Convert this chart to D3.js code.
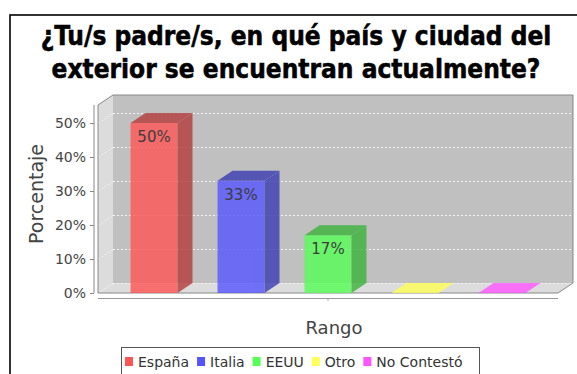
<!DOCTYPE html>
<html>
<head>
<meta charset="utf-8">
<script src="https://cdn.jsdelivr.net/npm/d3@7"></script>
<style>
  html, body { margin: 0; padding: 0; background: #fff; }
  svg { display: block; }
</style>
</head>
<body>
<svg id="chart" width="577" height="374"></svg>
<script>
// Survey answers: where the respondents' parents live abroad
const titleLines = ["¿Tu/s padre/s, en qué país y ciudad del", "exterior se encuentran actualmente?"];
const series = ["España", "Italia", "EEUU", "Otro", "No Contestó"];
const values = [50, 33, 17, 0, 0];
const valueLabels = ["50%", "33%", "17%", "", ""];
const seriesColors = ["#FF5555", "#5555FF", "#55FF55", "#FFFF55", "#FF55FF"];
const yTicks = [0, 10, 20, 30, 40, 50];
const category = "Rango";
const yLabel = "Porcentaje";

const svg = d3.select("#chart");
const W = 577, H = 374;

// outer frame
svg.append("rect").attr("x", 10).attr("y", 15).attr("width", W).attr("height", H)
  .attr("fill", "#fff").attr("stroke", "#000").attr("stroke-width", 1.6);

// title
const title = svg.append("text").attr("text-anchor", "middle")
  .attr("font-family", "'DejaVu Sans Condensed', 'DejaVu Sans', sans-serif")
  .attr("font-weight", "bold").attr("font-size", 26).attr("fill", "#000")
  .attr("stroke", "#000").attr("stroke-width", 0.5);
titleLines.forEach((t, i) => {
  title.append("tspan").attr("x", 296).attr("y", 45 + i * 33).text(t);
});

// 3D plot geometry
const x0 = 98, x1 = 558, yBottom = 293, yTop = 105;
const dx = 15, dy = 10;

const y = d3.scaleLinear().domain([0, 55.3]).range([yBottom, yTop]);
const xb = d3.scaleBand().domain(series).range([x0, x1])
  .paddingInner(0.46).paddingOuter(0.374);

const g = svg.append("g");

// walls
g.append("polygon")
  .attr("points", [[x0, yTop], [x0 + dx, yTop - dy], [x0 + dx, yBottom - dy], [x0, yBottom]].join(" "))
  .attr("fill", "#dcdcdc");
g.append("polygon")
  .attr("points", [[x0 + dx, yTop - dy], [x1 + dx, yTop - dy], [x1 + dx, yBottom - dy], [x0 + dx, yBottom - dy]].join(" "))
  .attr("fill", "#c0c0c0");
g.append("polygon")
  .attr("points", [[x0, yBottom], [x0 + dx, yBottom - dy], [x1 + dx, yBottom - dy], [x1, yBottom]].join(" "))
  .attr("fill", "#dcdcdc");

// gridlines on back wall and left wall
const grid = g.append("g").attr("stroke", "#f2f2f2").attr("stroke-width", 1)
  .attr("stroke-dasharray", "2,2").attr("fill", "none");
yTicks.forEach(v => {
  const yy = Math.round(y(v)) + 0.5;
  grid.append("line").attr("x1", x0 + dx).attr("x2", x1 + dx).attr("y1", yy - dy).attr("y2", yy - dy);
  grid.append("line").attr("x1", x0).attr("x2", x0 + dx).attr("y1", yy).attr("y2", yy - dy);
});

// outline of the 3D box
g.append("polygon")
  .attr("points", [[x0, yTop], [x0 + dx, yTop - dy], [x1 + dx, yTop - dy], [x1 + dx, yBottom - dy], [x1, yBottom], [x0, yBottom]].join(" "))
  .attr("fill", "none").attr("stroke", "#888").attr("stroke-width", 1);

// bars
const bars = g.append("g").selectAll("g").data(series).join("g").attr("opacity", 0.8);
bars.each(function (s, i) {
  const b = d3.select(this);
  const v = values[i];
  const bx0 = xb(s), bx1 = xb(s) + xb.bandwidth();
  const yv = y(v);
  const base = d3.color(seriesColors[i]);
  const dark = d3.rgb(base.r * 0.7, base.g * 0.7, base.b * 0.7);
  if (v > 0) {
    b.append("rect").attr("x", bx0).attr("y", yv).attr("width", bx1 - bx0).attr("height", yBottom - yv)
      .attr("fill", base);
    b.append("polygon")
      .attr("points", [[bx1, yv], [bx1 + dx, yv - dy], [bx1 + dx, yBottom - dy], [bx1, yBottom]].join(" "))
      .attr("fill", dark);
  }
  b.append("polygon")
    .attr("points", [[bx0, yv], [bx0 + dx, yv - dy], [bx1 + dx, yv - dy], [bx1, yv]].join(" "))
    .attr("fill", v > 0 ? dark : base);
  if (valueLabels[i]) {
    b.append("text").attr("x", (bx0 + bx1) / 2).attr("y", yv + 19)
      .attr("text-anchor", "middle").attr("font-family", "'DejaVu Sans', sans-serif")
      .attr("font-size", 15).attr("fill", "#1a1a1a").text(valueLabels[i]);
  }
});

// y axis
const yAxis = d3.axisLeft(y).tickValues(yTicks).tickFormat(d => d + "%").tickSize(4).tickPadding(4);
const ya = svg.append("g").attr("transform", "translate(94,0)").call(yAxis);
ya.select(".domain").attr("d", `M0,${yTop}V${yBottom}`).attr("stroke", "#888");
ya.selectAll(".tick line").attr("stroke", "#888");
ya.selectAll(".tick text").attr("font-family", "'DejaVu Sans', sans-serif").attr("font-size", 14).attr("fill", "#444");

// x axis (single category)
const xc = d3.scaleBand().domain([category]).range([x0, x1]);
const xAxis = d3.axisBottom(xc).tickSize(2).tickFormat("");
const xa = svg.append("g").attr("transform", "translate(0,298.5)").call(xAxis);
xa.select(".domain").attr("d", `M${x0},0H${x1}`).attr("stroke", "#999");
xa.selectAll(".tick line").attr("stroke", "#999");

svg.append("text").attr("x", 334).attr("y", 334).attr("text-anchor", "middle")
  .attr("font-family", "'DejaVu Sans', sans-serif").attr("font-size", 18).attr("fill", "#444").text(category);
svg.append("text").attr("transform", "translate(43,194) rotate(-90)").attr("text-anchor", "middle")
  .attr("font-family", "'DejaVu Sans', sans-serif").attr("font-size", 19).attr("fill", "#444").text(yLabel);

// legend
const legend = svg.append("g");
legend.append("rect").attr("x", 121.5).attr("y", 347.5).attr("width", 358).attr("height", 40)
  .attr("fill", "#fff").attr("stroke", "#555");
let lx = 125;
series.forEach((s, i) => {
  legend.append("rect").attr("x", lx).attr("y", 357).attr("width", 8).attr("height", 9).attr("fill", seriesColors[i]);
  const t = legend.append("text").attr("x", lx + 13).attr("y", 367)
    .attr("font-family", "'DejaVu Sans', sans-serif").attr("font-size", 14).attr("fill", "#333").text(s);
  lx += 13 + t.node().getComputedTextLength() + 8;
});
</script>
</body>
</html>
